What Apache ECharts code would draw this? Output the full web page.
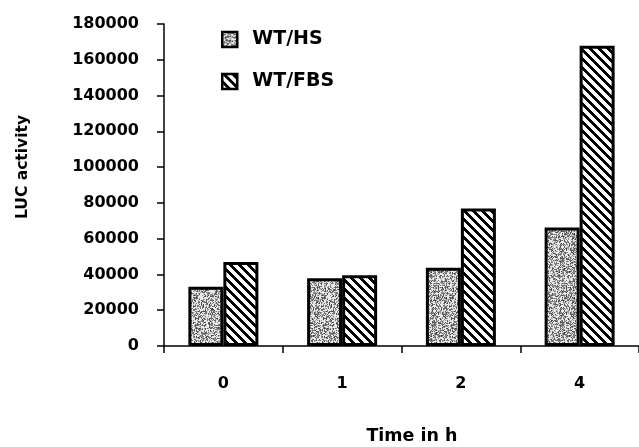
<!DOCTYPE html>
<html>
<head>
<meta charset="utf-8">
<script src="https://cdn.jsdelivr.net/npm/echarts@6/dist/echarts.min.js"></script>
<style>
html,body{margin:0;padding:0;background:#fff;}
#chart{width:639px;height:447px;}
</style>
</head>
<body>
<div id="chart"></div>
<script>
// ---- data ----
const categories = ['0', '1', '2', '4'];
const seriesNames = ['WT/HS', 'WT/FBS'];
const wtHS = [33100, 37900, 43700, 66200];
const wtFBS = [47000, 39600, 76900, 167800];
const yMin = 0, yMax = 180000, yInterval = 20000;
const xTitle = 'Time in h';
const yTitle = 'LUC activity';

// ---- textures ----
function stripePattern() {
  const n = 9;
  const c = document.createElement('canvas');
  c.width = n; c.height = n;
  const ctx = c.getContext('2d');
  const img = ctx.createImageData(n, n);
  for (let y = 0; y < n; y++) {
    for (let x = 0; x < n; x++) {
      const d = (((x - y) % n) + n) % n;
      const v = d < 4 ? 0 : 255;
      const i = (y * n + x) * 4;
      img.data[i] = v; img.data[i+1] = v; img.data[i+2] = v; img.data[i+3] = 255;
    }
  }
  ctx.putImageData(img, 0, 0);
  return c;
}
function stipplePattern() {
  const n = 64;
  const c = document.createElement('canvas');
  c.width = n; c.height = n;
  const ctx = c.getContext('2d');
  const img = ctx.createImageData(n, n);
  let s = 12345;
  function lcg() { s = (s * 1103515245 + 12345) & 0x7fffffff; return s / 0x7fffffff; }
  for (let i = 0; i < n * n; i++) {
    const r = lcg();
    let v = 232;
    if (r < 0.5) v = 60 + Math.floor(lcg() * 110);
    img.data[i*4] = v; img.data[i*4+1] = v; img.data[i*4+2] = v; img.data[i*4+3] = 255;
  }
  ctx.putImageData(img, 0, 0);
  return c;
}
const stipple = { image: stipplePattern(), repeat: 'repeat' };
const stripes = { image: stripePattern(), repeat: 'repeat' };

const FONT = 'DejaVu Sans';
const chart = echarts.init(document.getElementById('chart'), null, { renderer: 'canvas' });
chart.setOption({
  backgroundColor: '#ffffff',
  animation: false,
  grid: { left: 164, top: 24, width: 482, height: 322, containLabel: false },
  legend: {
    orient: 'vertical',
    left: 216, top: 25,
    itemWidth: 15, itemHeight: 15,
    itemGap: 23,
    icon: 'rect',
    itemStyle: { borderColor: '#000', borderWidth: 2.5 },
    textStyle: { fontFamily: FONT, fontWeight: 'bold', fontSize: 19, color: '#000', padding: [0, 0, 0, 10], lineHeight: 19 },
    data: seriesNames
  },
  xAxis: {
    type: 'category',
    data: categories,
    axisLine: { lineStyle: { color: '#000', width: 1.5 } },
    axisTick: { show: true, length: 7, lineStyle: { color: '#000', width: 1.5 } },
    axisLabel: { margin: 30, fontFamily: FONT, fontWeight: 'bold', fontSize: 16, color: '#000' },
    splitLine: { show: false }
  },
  yAxis: {
    type: 'value',
    min: yMin, max: yMax, interval: yInterval,
    axisLine: { show: true, lineStyle: { color: '#000', width: 1.5 } },
    axisTick: { show: true, length: 7, lineStyle: { color: '#000', width: 1.5 } },
    axisLabel: { margin: 25, fontFamily: FONT, fontWeight: 'bold', fontSize: 16, color: '#000',
      formatter: function (v) { return String(v); } },
    splitLine: { show: false }
  },
  graphic: [
    {
      type: 'text', x: 23, y: 167, rotation: Math.PI / 2,
      style: { text: yTitle, fontFamily: FONT, fontWeight: 'bold', fontSize: 15.5, fill: '#000', align: 'center', verticalAlign: 'middle' }
    },
    {
      type: 'text', x: 412, y: 436,
      style: { text: xTitle, fontFamily: FONT, fontWeight: 'bold', fontSize: 17.5, fill: '#000', align: 'center', verticalAlign: 'middle' }
    }
  ],
  series: [
    {
      name: seriesNames[0], type: 'bar', data: wtHS,
      barWidth: 35, barGap: '0%',
      itemStyle: { color: stipple, borderColor: '#000', borderWidth: 3 }
    },
    {
      name: seriesNames[1], type: 'bar', data: wtFBS,
      barWidth: 35, barGap: '0%',
      itemStyle: { color: stripes, borderColor: '#000', borderWidth: 3 }
    }
  ]
});
</script>
</body>
</html>
